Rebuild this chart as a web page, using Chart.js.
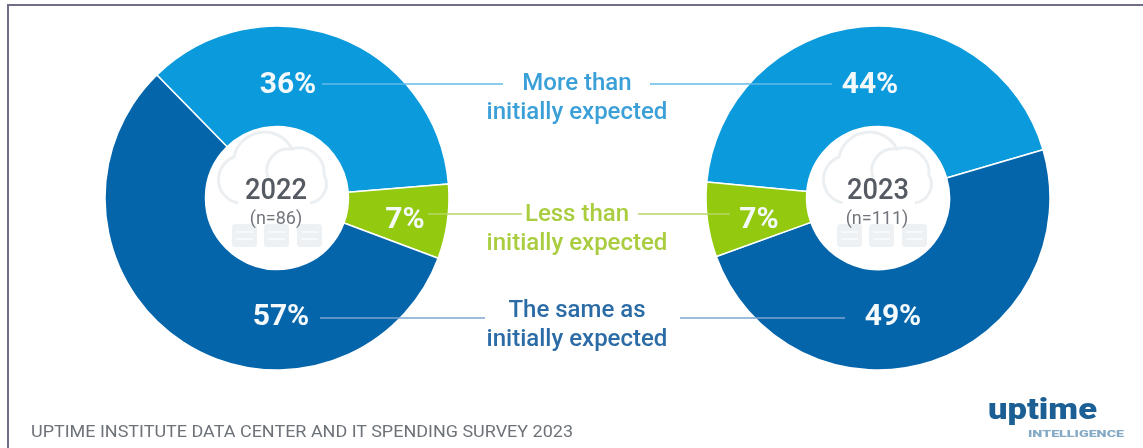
<!DOCTYPE html>
<html lang="en">
<head>
<meta charset="UTF-8">
<title>Data center spending survey</title>
<script src="https://cdn.jsdelivr.net/npm/chart.js"></script>
<style>
    html, body { margin: 0; padding: 0; background: #fff; overflow: hidden; }
    #page { position: relative; width: 1143px; height: 448px; overflow: hidden; background: #fff; font-family: Roboto, sans-serif; }
    #frameTop { position: absolute; left: 7px; right: 0; top: 4px; height: 2px; background: #6f6e86; }
    #frameLeft { position: absolute; left: 7px; top: 4px; width: 2px; height: 444px; background: #6f6e86; }
    canvas { position: absolute; top: 24px; }
    #chart2022 { left: 103px; }
    #chart2023 { left: 704px; }
    svg { position: absolute; left: 0; top: 0; }
    .pct { font-size: 30px; font-weight: 700; fill: #f4f9fc; text-anchor: middle; }
    .cap { font-size: 24px; font-weight: 500; text-anchor: middle; }
    .year { font-size: 30px; font-weight: 500; fill: #565b63; text-anchor: middle; }
    .count { font-size: 18px; fill: #72767c; text-anchor: middle; }
    .note { font-size: 17px; fill: #6d7278; }
</style>
</head>
<body>
<div id="page">
    <div id="frameTop"></div>
    <div id="frameLeft"></div>
    <canvas id="chart2022" width="348" height="348"></canvas>
    <canvas id="chart2023" width="348" height="348"></canvas>
    <svg id="notes" width="1143" height="448" xmlns="http://www.w3.org/2000/svg">
        <defs>
            <g id="cloudIcon" fill="none" stroke="#eceff1" stroke-width="3">
                <path d="M238 203 a24 24 0 0 1 -4 -46 a31 31 0 0 1 58 -8 a25 25 0 0 1 32 26 a19 19 0 0 1 -14 28"/>
                <path d="M268 178 a22 22 0 0 1 24 -29"/>
                <g stroke="none" fill="#eef1f3">
                    <rect x="232" y="224" width="25" height="23" rx="3"/>
                    <rect x="264" y="224" width="25" height="23" rx="3"/>
                    <rect x="297" y="224" width="25" height="23" rx="3"/>
                </g>
                <g stroke="#fff" stroke-width="1.2">
                    <path d="M236 232 h17 M236 239 h17"/>
                    <path d="M268 232 h17 M268 239 h17"/>
                    <path d="M301 232 h17 M301 239 h17"/>
                </g>
            </g>
        </defs>
        <use href="#cloudIcon"/>
        <use href="#cloudIcon" x="605"/>

        <g stroke-width="1.4">
            <line x1="322" y1="84" x2="503" y2="84" stroke="#63bae8"/>
            <line x1="650" y1="84" x2="832" y2="84" stroke="#63bae8"/>
            <line x1="428" y1="214" x2="522" y2="214" stroke="#b6d667"/>
            <line x1="638" y1="214" x2="730" y2="214" stroke="#b6d667"/>
            <line x1="320" y1="318" x2="485" y2="318" stroke="#7ca6cf"/>
            <line x1="680" y1="318" x2="845" y2="318" stroke="#7ca6cf"/>
        </g>

        <text class="cap" x="577" y="90" fill="#3b9fd8">More than</text>
        <text class="cap" x="577" y="119" fill="#3b9fd8">initially expected</text>
        <text class="cap" x="577" y="221" fill="#a9cd3f">Less than</text>
        <text class="cap" x="577" y="250" fill="#a9cd3f">initially expected</text>
        <text class="cap" x="577" y="317" fill="#2b6ba6">The same as</text>
        <text class="cap" x="577" y="346" fill="#2b6ba6">initially expected</text>

        <text class="year" x="276" y="199" textLength="62" lengthAdjust="spacingAndGlyphs">2022</text>
        <text class="count" x="276" y="224">(n=86)</text>
        <text class="year" x="878" y="199" textLength="62" lengthAdjust="spacingAndGlyphs">2023</text>
        <text class="count" x="877" y="224">(n=111)</text>

        <text class="note" x="31" y="437" textLength="542" lengthAdjust="spacingAndGlyphs">UPTIME INSTITUTE DATA CENTER AND IT SPENDING SURVEY 2023</text>

        <text x="988" y="419" font-size="30" font-weight="900" fill="#1b5f94" textLength="109" lengthAdjust="spacingAndGlyphs">uptime</text>
        <text x="1028" y="437" font-size="9.5" font-weight="900" fill="#84aac6" textLength="96" lengthAdjust="spacingAndGlyphs">INTELLIGENCE</text>
    </svg>
</div>

<script>
    const categories2022 = ['More than initially expected', 'Less than initially expected', 'The same as initially expected'];
    const values2022 = [36, 7, 57];
    const colors2022 = ['#0b9bdc', '#93c90e', '#0565ab'];

    // 2023 runs the other way round the ring: green closes it on the left side
    const categories2023 = ['More than initially expected', 'The same as initially expected', 'Less than initially expected'];
    const values2023 = [44, 49, 7];
    const colors2023 = ['#0b9bdc', '#0565ab', '#93c90e'];

    // where each percentage sits: x centre, baseline
    const pctSpots2022 = [[288, 93], [405, 228], [281, 325]];
    const pctSpots2023 = [[870, 93], [893, 325], [759, 228]];

    function drawRing(id, labels, values, colors, rotation) {
        new Chart(document.getElementById(id), {
            type: 'doughnut',
            data: {
                labels: labels,
                datasets: [{
                    data: values,
                    backgroundColor: colors,
                    borderColor: '#fff',
                    borderWidth: 1.5
                }]
            },
            options: {
                responsive: false,
                animation: false,
                rotation: rotation,
                cutout: 72,
                radius: 172,
                layout: { padding: 0 },
                plugins: { legend: { display: false }, tooltip: { enabled: false } }
            }
        });
    }

    function addPercents(values, spots) {
        const svg = document.getElementById('notes');
        values.forEach((v, i) => {
            const t = document.createElementNS('http://www.w3.org/2000/svg', 'text');
            t.setAttribute('class', 'pct');
            t.setAttribute('x', spots[i][0]);
            t.setAttribute('y', spots[i][1]);
            t.textContent = v + '%';
            svg.appendChild(t);
        });
    }

    drawRing('chart2022', categories2022, values2022, colors2022, -44.3);
    drawRing('chart2023', categories2023, values2023, colors2023, -84.7);
    addPercents(values2022, pctSpots2022);
    addPercents(values2023, pctSpots2023);
</script>
</body>
</html>
